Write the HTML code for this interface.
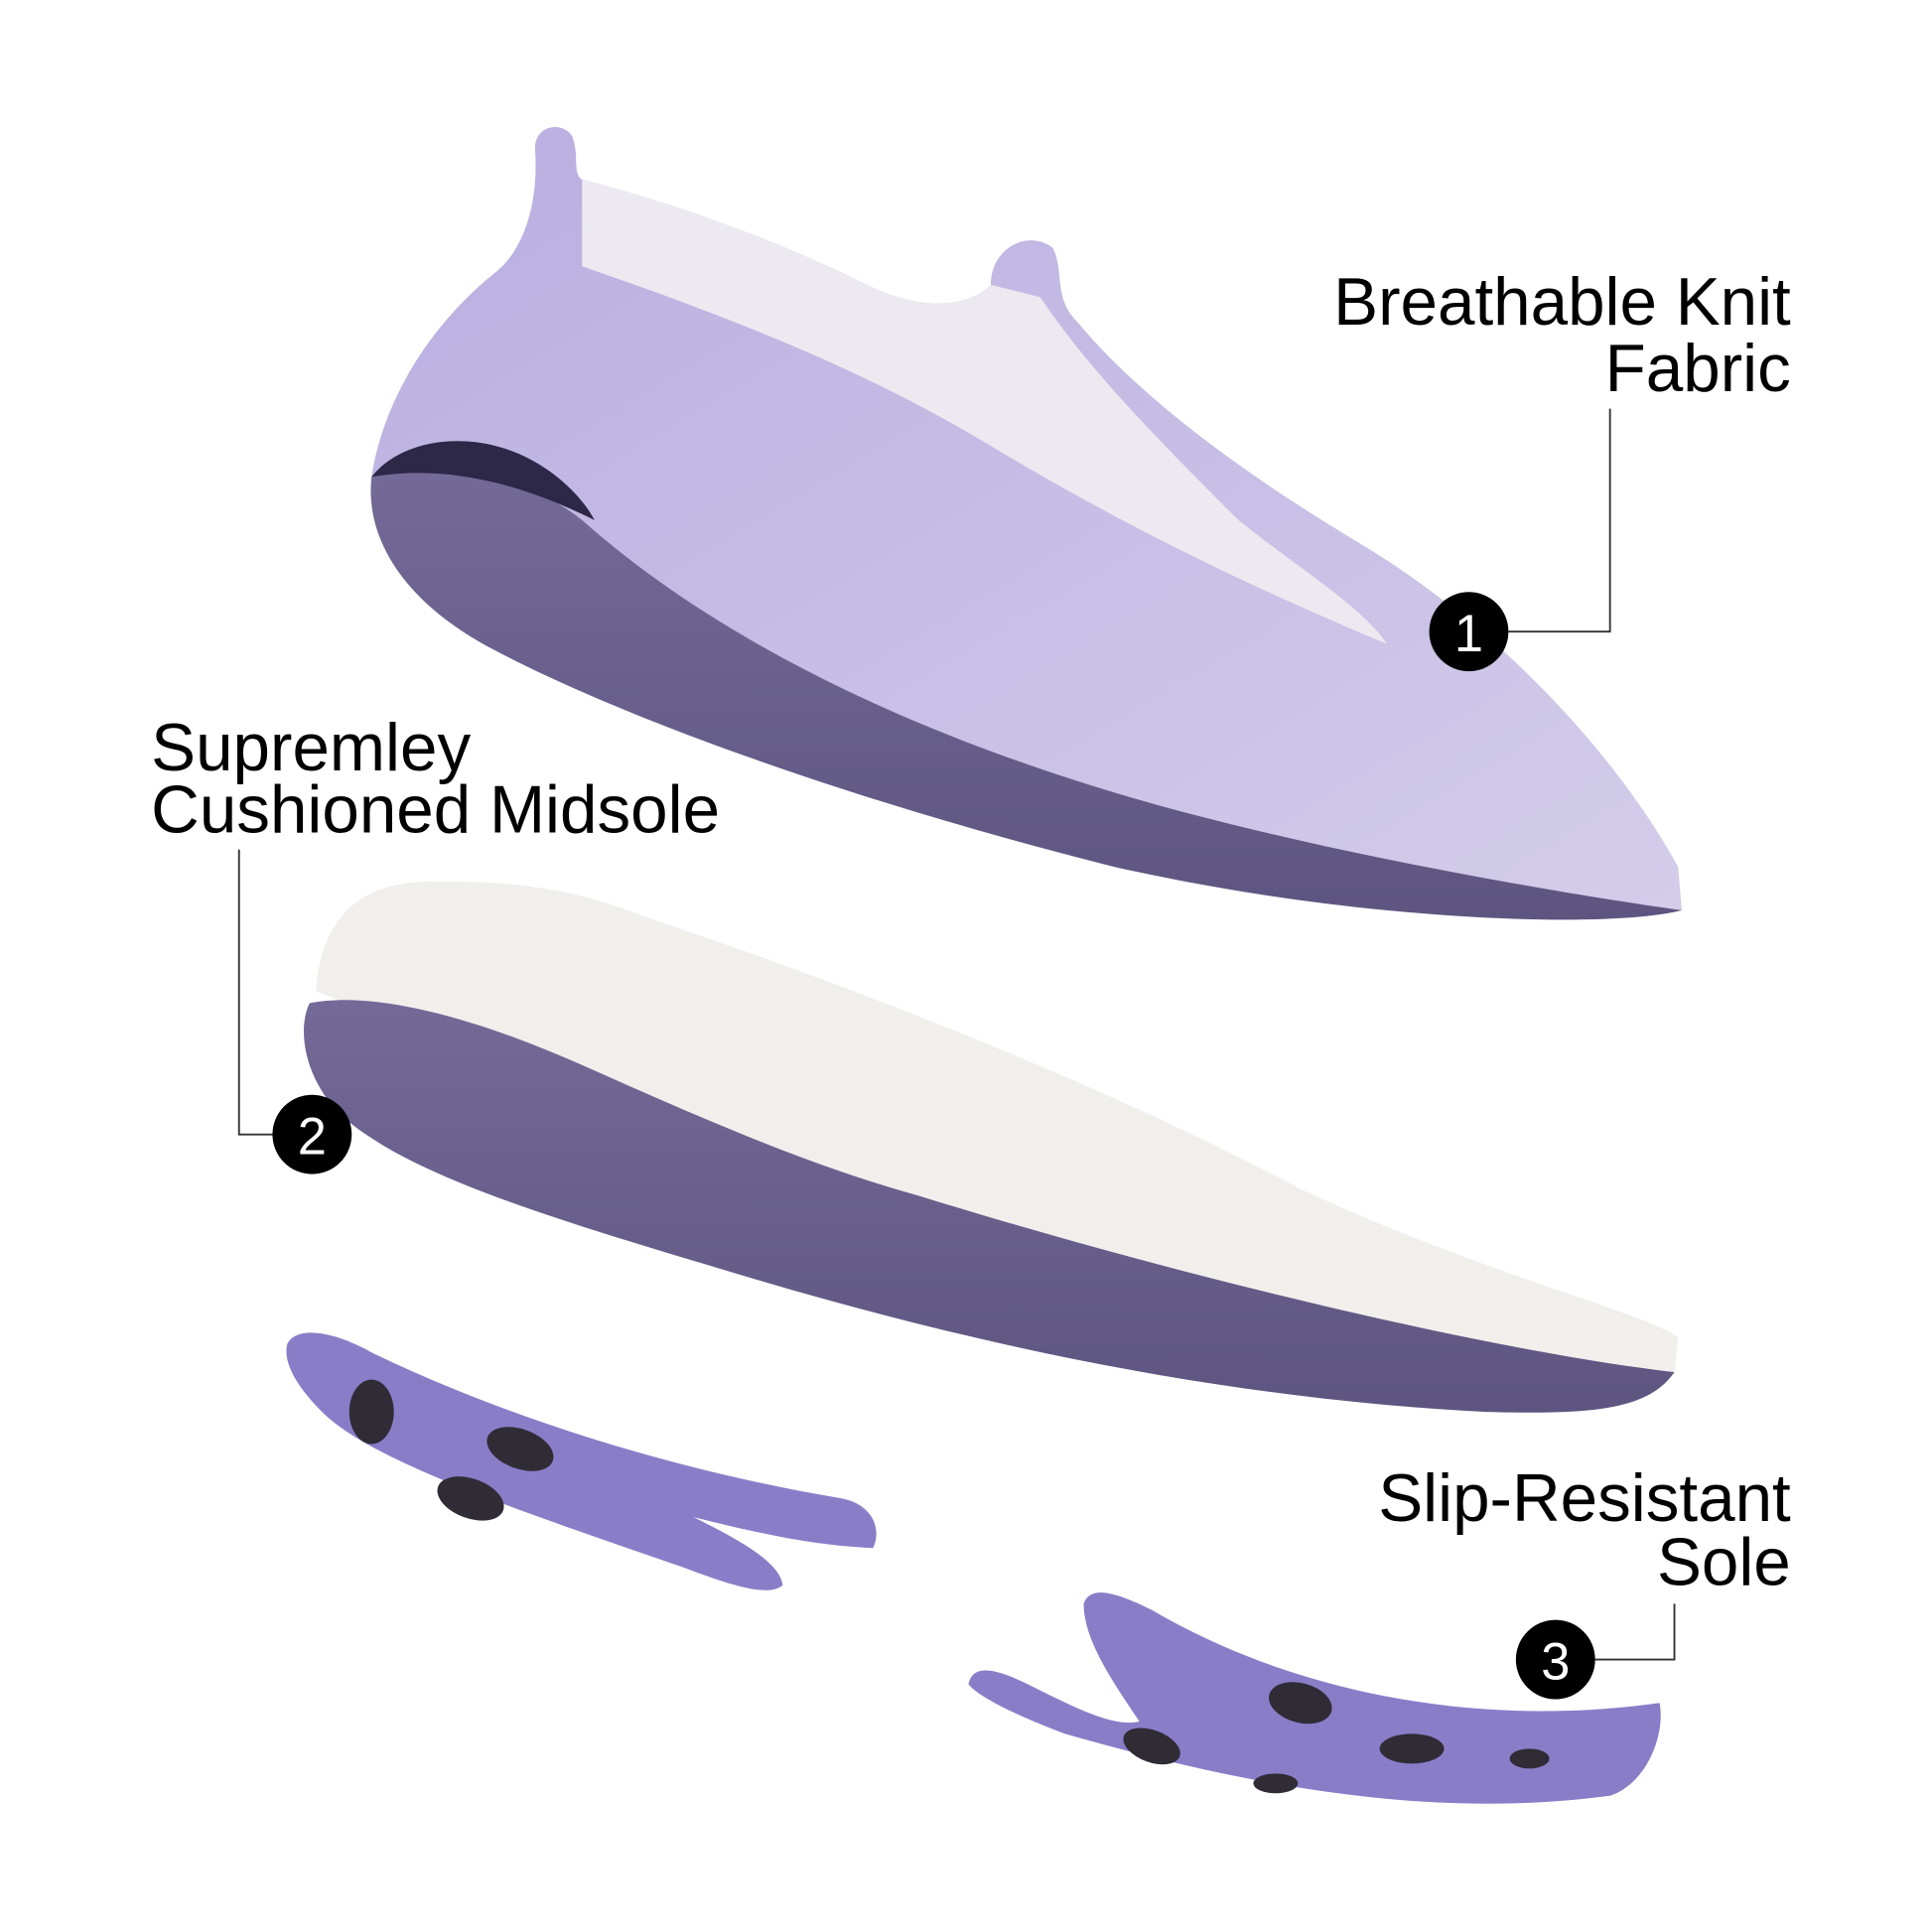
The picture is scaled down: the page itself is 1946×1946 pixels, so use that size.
<!DOCTYPE html>
<html><head><meta charset="utf-8"><style>
html,body{margin:0;padding:0;background:#fff;}
svg{display:block}
text{font-family:"Liberation Sans",sans-serif;fill:#000}
</style></head><body>
<svg width="1946" height="1946" viewBox="0 0 1560 1560" xmlns="http://www.w3.org/2000/svg">
<defs>
<linearGradient id="dk" x1="0" y1="0" x2="0" y2="1">
<stop offset="0" stop-color="#746a98"/><stop offset="1" stop-color="#5d5580"/></linearGradient>
<linearGradient id="up" x1="0" y1="0" x2="1" y2="1">
<stop offset="0" stop-color="#b9aee0"/><stop offset="1" stop-color="#d3cdea"/></linearGradient>
</defs>
<!-- upper shoe -->
<path d="M300,385 C310,320 350,260 400,220 C425,200 435,160 432,120 C432,100 455,98 462,110 C468,125 462,140 470,145 C530,160 620,190 700,230 C740,250 780,250 800,230 C800,200 830,185 850,200 C860,220 850,240 870,260 C920,320 1000,380 1100,440 C1200,500 1300,600 1355,700 L1358,735 C1200,720 1000,690 800,630 C600,570 430,480 300,385 Z" fill="url(#up)"/>
<path d="M470,145 C530,160 620,190 700,230 C740,250 780,250 800,230 L840,240 C880,300 940,360 1000,420 C1050,460 1100,490 1120,520 C1000,470 900,420 800,360 C700,300 600,260 470,215 Z" fill="#eceaf0"/>
<path d="M300,385 C350,370 420,380 470,420 C560,500 700,580 900,640 C1050,685 1250,720 1358,735 C1300,750 1100,745 900,700 C700,650 500,580 390,520 C320,480 295,430 300,385 Z" fill="url(#dk)"/>
<path d="M300,385 C320,360 360,350 400,360 C440,370 470,400 480,420 C420,390 360,375 300,385 Z" fill="#2d2848"/>
<!-- midsole -->
<path d="M255,800 C260,740 290,715 340,712 C420,710 470,720 520,740 C700,800 900,880 1050,960 C1200,1030 1330,1060 1355,1080 L1352,1110 C1200,1110 1000,1060 800,990 C600,920 400,860 255,800 Z" fill="#f1efec"/>
<path d="M250,810 C300,800 380,820 470,860 C560,900 650,940 740,965 C950,1030 1200,1090 1352,1108 C1330,1140 1280,1142 1200,1140 C1000,1130 800,1090 600,1030 C450,985 330,950 275,900 C245,870 240,830 250,810 Z" fill="url(#dk)"/>
<!-- outsole left -->
<path d="M232,1085 C240,1070 270,1075 300,1092 C420,1150 560,1190 680,1210 C705,1215 712,1235 705,1250 C660,1248 620,1240 560,1225 C590,1240 630,1260 632,1280 C620,1290 590,1280 550,1265 C420,1220 300,1180 260,1140 C240,1120 228,1100 232,1085 Z" fill="#8a7dc8"/>
<ellipse cx="300" cy="1140" rx="18" ry="26" fill="#2f2c36"/>
<ellipse cx="420" cy="1170" rx="28" ry="16" fill="#2f2c36" transform="rotate(20 420 1170)"/>
<ellipse cx="380" cy="1210" rx="28" ry="16" fill="#2f2c36" transform="rotate(20 380 1210)"/>
<!-- outsole right -->
<path d="M875,1295 C880,1280 900,1285 930,1300 C1050,1370 1200,1395 1340,1375 C1345,1400 1330,1440 1300,1450 C1150,1470 1000,1440 860,1400 C820,1385 790,1370 782,1360 C785,1345 800,1345 830,1360 C870,1380 900,1395 920,1390 C900,1360 875,1325 875,1295 Z" fill="#8a7dc8"/>
<ellipse cx="1050" cy="1375" rx="26" ry="16" fill="#2f2c36" transform="rotate(15 1050 1375)"/>
<ellipse cx="930" cy="1410" rx="24" ry="13" fill="#2f2c36" transform="rotate(20 930 1410)"/>
<ellipse cx="1140" cy="1412" rx="26" ry="12" fill="#2f2c36"/>
<ellipse cx="1030" cy="1440" rx="18" ry="8" fill="#2f2c36"/>
<ellipse cx="1235" cy="1420" rx="16" ry="8" fill="#2f2c36"/>
<!-- labels -->
<text x="1446" y="262" font-size="54" text-anchor="end">Breathable Knit</text>
<text x="1446" y="316" font-size="54" text-anchor="end">Fabric</text>
<polyline points="1218,510 1300,510 1300,330" fill="none" stroke="#333" stroke-width="1.5"/>
<circle cx="1186" cy="510" r="32" fill="#000"/>
<text x="1186" y="526" font-size="42" text-anchor="middle" style="fill:#fff">1</text>

<text x="122" y="622" font-size="54">Supremley</text>
<text x="122" y="672" font-size="54">Cushioned Midsole</text>
<polyline points="193,686 193,916 222,916" fill="none" stroke="#333" stroke-width="1.5"/>
<circle cx="252" cy="916" r="32" fill="#000"/>
<text x="252" y="932" font-size="42" text-anchor="middle" style="fill:#fff">2</text>

<text x="1446" y="1228" font-size="54" text-anchor="end">Slip-Resistant</text>
<text x="1446" y="1280" font-size="54" text-anchor="end">Sole</text>
<polyline points="1288,1340 1352,1340 1352,1295" fill="none" stroke="#333" stroke-width="1.5"/>
<circle cx="1256" cy="1340" r="32" fill="#000"/>
<text x="1256" y="1356" font-size="42" text-anchor="middle" style="fill:#fff">3</text>
</svg>
</body></html>
